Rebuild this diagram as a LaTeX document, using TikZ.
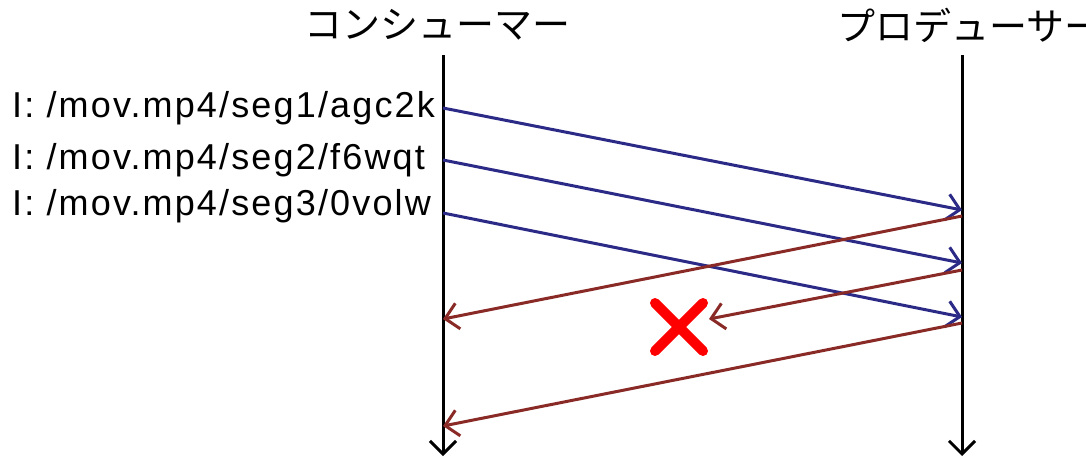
\documentclass[tikz,border=0pt]{standalone}
\usepackage{fontspec}
\setmainfont{Liberation Sans}
\newfontfamily\jpfont{Noto Sans CJK JP}
\newfontfamily\labfont[LetterSpace=6]{Liberation Sans}
\usetikzlibrary{arrows.meta}
\definecolor{reqblue}{RGB}{44,42,135}
\definecolor{datred}{RGB}{138,42,38}
\definecolor{lostred}{RGB}{255,0,0}
\tikzset{
  lifeline/.style={line width=3pt,black,-{Straight Barb[length=13pt,width=26pt,line width=3pt]}},
  interest/.style={line width=3pt,reqblue,-{Straight Barb[length=13pt,width=26pt,line width=3pt]}},
  datamsg/.style={line width=3pt,datred,-{Straight Barb[length=13pt,width=26pt,line width=3pt]}},
  title/.style={font=\jpfont\fontsize{38}{40}\selectfont,inner sep=0pt},
  intlabel/.style={font=\labfont\fontsize{36}{40}\selectfont,inner sep=0pt,anchor=base west},
  cross/.style={line width=10pt,lostred,line cap=round}
}
\begin{document}
\begin{tikzpicture}[x=1pt,y=-1pt]
\useasboundingbox (0,0) rectangle (1086,459);
% titles
\node[title] (consumer) at (437,25) {コンシューマー};
\node[title] (producer) at (970,25) {プロデューサー};
% lifelines
\coordinate (ctop) at (443,55);
\coordinate (cbot) at (443,456);
\coordinate (ptop) at (962,55);
\coordinate (pbot) at (962,456);
\draw[lifeline] (ctop) -- (cbot);
\draw[lifeline] (ptop) -- (pbot);
% points on lifelines
\coordinate (c1) at (443,108);
\coordinate (c2) at (443,160);
\coordinate (c3) at (443,213);
\coordinate (p1) at (962,210);
\coordinate (p2) at (962,263);
\coordinate (p3) at (962,317);
\coordinate (q1) at (962,216);
\coordinate (q2) at (962,270);
\coordinate (q3) at (962,323);
\coordinate (d1) at (443,319);
\coordinate (d3) at (443,426);
\coordinate (lost) at (709,319);
\coordinate (x) at (679,327);
% labels
\node[intlabel] (l1) at (12,117) {I: /mov.mp4/seg1/agc2k};
\node[intlabel] (l2) at (12,169) {I: /mov.mp4/seg2/f6wqt};
\node[intlabel] (l3) at (12,215) {I: /mov.mp4/seg3/0volw};
% interests
\draw[interest] (c1) -- (p1);
\draw[interest] (c2) -- (p2);
\draw[interest] (c3) -- (p3);
% data
\draw[datamsg] (q1) -- (d1);
\draw[datamsg] (q2) -- (lost);
\draw[datamsg] (q3) -- (d3);
% cross
\draw[cross] ([shift={(-24,-24)}]x) -- ([shift={(24,24)}]x);
\draw[cross] ([shift={(-24,24)}]x) -- ([shift={(24,-24)}]x);
\end{tikzpicture}
\end{document}
